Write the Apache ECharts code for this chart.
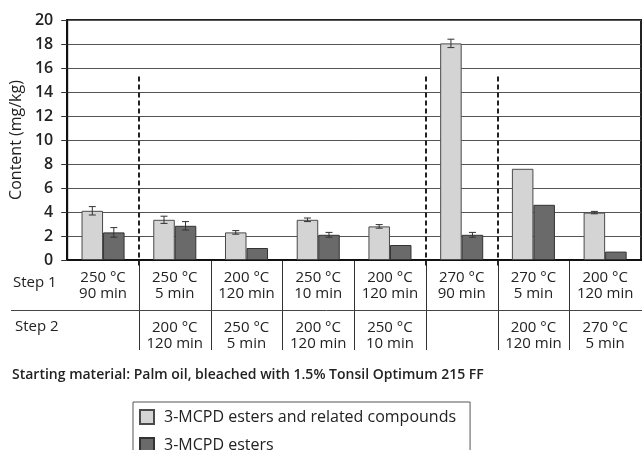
<!DOCTYPE html>
<html>
<head>
<meta charset="utf-8">
<script src="https://cdn.jsdelivr.net/npm/echarts@6/dist/echarts.min.js"></script>
<style>
  html, body { margin: 0; padding: 0; background: #fff; }
  #root { width: 642px; height: 450px; }
</style>
</head>
<body>
<div id="root"></div>
<script>
// table rows under the chart (one column per bar pair)
const step1 = ['250 °C\n90 min', '250 °C\n5 min', '200 °C\n120 min', '250 °C\n10 min',
  '200 °C\n120 min', '270 °C\n90 min', '270 °C\n5 min', '200 °C\n120 min'];
const step2 = ['', '200 °C\n120 min', '250 °C\n5 min', '200 °C\n120 min',
  '250 °C\n10 min', '', '200 °C\n120 min', '270 °C\n5 min'];

// mg/kg, with +/- error (0 = no error bar)
const relatedValues = [4.1, 3.35, 2.3, 3.35, 2.8, 18.05, 7.6, 3.95];
const relatedErr = [0.35, 0.3, 0.15, 0.15, 0.15, 0.35, 0, 0.1];
const esterValues = [2.3, 2.85, 1.0, 2.1, 1.25, 2.1, 4.6, 0.7];
const esterErr = [0.4, 0.35, 0, 0.2, 0, 0.2, 0, 0];

const yTicks = [0, 2, 4, 6, 8, 10, 12, 14, 16, 18, 20];
const dashedAfter = [0, 4, 5];   // dashed separators after these columns
const dashedTop = 15.3;

const seriesNames = ['3-MCPD esters and related compounds', '3-MCPD esters'];
const font = "'Open Sans', sans-serif";

const chart = echarts.init(document.getElementById('root'));

function errorBars(sign) {
  return function (params, api) {
    const i = api.value(0), v = api.value(1), e = api.value(2);
    if (!e) return null;
    const band = api.size([1, 0])[0];
    const x = api.coord([i, v])[0] + sign * band * 0.15;
    const top = api.coord([i, v + e])[1];
    const bot = api.coord([i, v - e])[1];
    const cap = 3.5;
    const st = { stroke: '#333', lineWidth: 1 };
    return {
      type: 'group',
      children: [
        { type: 'line', shape: { x1: x, y1: top, x2: x, y2: bot }, style: st },
        { type: 'line', shape: { x1: x - cap, y1: top, x2: x + cap, y2: top }, style: st },
        { type: 'line', shape: { x1: x - cap, y1: bot, x2: x + cap, y2: bot }, style: st }
      ]
    };
  };
}

const option = {
  animation: false,
  textStyle: { fontFamily: font },
  grid: {
    left: 67, right: 1, top: 20, bottom: 190,
    show: true, borderColor: '#222', borderWidth: 2
  },
  legend: {
    left: 133, top: 402,
    orient: 'horizontal',
    width: 320,
    data: seriesNames,
    icon: 'rect',
    itemWidth: 14, itemHeight: 14, itemGap: 12,
    padding: [7, 14, 10, 6],
    borderColor: '#555', borderWidth: 1,
    textStyle: { fontFamily: font, fontSize: 16, color: '#222', padding: [0, 0, 0, 5] }
  },
  xAxis: [
    {
      type: 'category',
      data: step1,
      axisLine: { show: true, lineStyle: { color: '#111', width: 2 } },
      axisTick: { show: false },
      axisLabel: { interval: 0, margin: 10, fontSize: 15, lineHeight: 16, color: '#222', fontFamily: font }
    },
    {
      type: 'category',
      data: step2,
      position: 'bottom',
      offset: 50,
      axisLine: { show: false },
      axisTick: { show: false },
      axisLabel: { interval: 0, margin: 10, fontSize: 15, lineHeight: 16, color: '#222', fontFamily: font }
    }
  ],
  yAxis: {
    type: 'value',
    min: 0, max: 20, interval: 2,
    name: 'Content (mg/kg)',
    nameLocation: 'middle',
    nameGap: 42,
    nameTextStyle: { fontSize: 16, color: '#222', fontFamily: font },
    axisLine: { show: true, lineStyle: { color: '#111', width: 2 } },
    axisTick: { show: true, length: 6, lineStyle: { color: '#333' } },
    axisLabel: {
      margin: 14, fontSize: 16, fontWeight: 600, color: '#222', fontFamily: font,
      formatter: v => (yTicks.indexOf(v) >= 0 ? String(v) : '')
    },
    splitLine: { lineStyle: { color: '#555', width: 1 } }
  },
  series: [
    {
      name: seriesNames[0], type: 'bar',
      data: relatedValues,
      barCategoryGap: '40%', barGap: '0%',
      itemStyle: { color: '#d4d4d4', borderColor: '#4a4a4a', borderWidth: 1 }
    },
    {
      name: seriesNames[1], type: 'bar',
      data: esterValues,
      barCategoryGap: '40%', barGap: '0%',
      itemStyle: { color: '#6a6a6a', borderColor: '#333', borderWidth: 1 }
    },
    {
      type: 'custom', renderItem: errorBars(-1), z: 5,
      encode: { x: 0, y: 1 },
      data: relatedValues.map((v, i) => [i, v, relatedErr[i]])
    },
    {
      type: 'custom', renderItem: errorBars(1), z: 5,
      encode: { x: 0, y: 1 },
      data: esterValues.map((v, i) => [i, v, esterErr[i]])
    }
  ]
};

chart.setOption(option);

// table lines, dashed separators and captions placed from the axes' own scales
const px = i => chart.convertToPixel({ xAxisIndex: 0 }, i);
const py = v => chart.convertToPixel({ yAxisIndex: 0 }, v);
const y0 = py(0);
const boundary = i => (px(i) + px(i + 1)) / 2;

const graphics = [];
for (let i = 0; i < step1.length - 1; i++) {
  const x = Math.round(boundary(i)) + 0.5;
  graphics.push({
    type: 'line', shape: { x1: x, y1: y0, x2: x, y2: y0 + 90 },
    style: { stroke: '#333', lineWidth: 1 }
  });
}
dashedAfter.forEach(i => {
  const x = Math.round(boundary(i));
  graphics.push({
    type: 'line', z: 10,
    shape: { x1: x, y1: py(dashedTop), x2: x, y2: y0 + 6 },
    style: { stroke: '#222', lineWidth: 2, lineDash: [5, 3] }
  });
});
graphics.push({
  type: 'line', shape: { x1: 11, y1: y0 + 50.5, x2: 642, y2: y0 + 50.5 },
  style: { stroke: '#444', lineWidth: 1 }
});
graphics.push({
  type: 'text', left: 13, top: y0 + 15,
  style: { text: 'Step 1', font: '15px ' + font, fill: '#222' }
});
graphics.push({
  type: 'text', left: 15, top: y0 + 59,
  style: { text: 'Step 2', font: '15px ' + font, fill: '#222' }
});
graphics.push({
  type: 'text', left: 12, top: 368,
  style: { text: 'Starting material: Palm oil, bleached with 1.5% Tonsil Optimum 215 FF', font: '600 14px ' + font, fill: '#222' }
});

chart.setOption({ graphic: graphics });
</script>
</body>
</html>
